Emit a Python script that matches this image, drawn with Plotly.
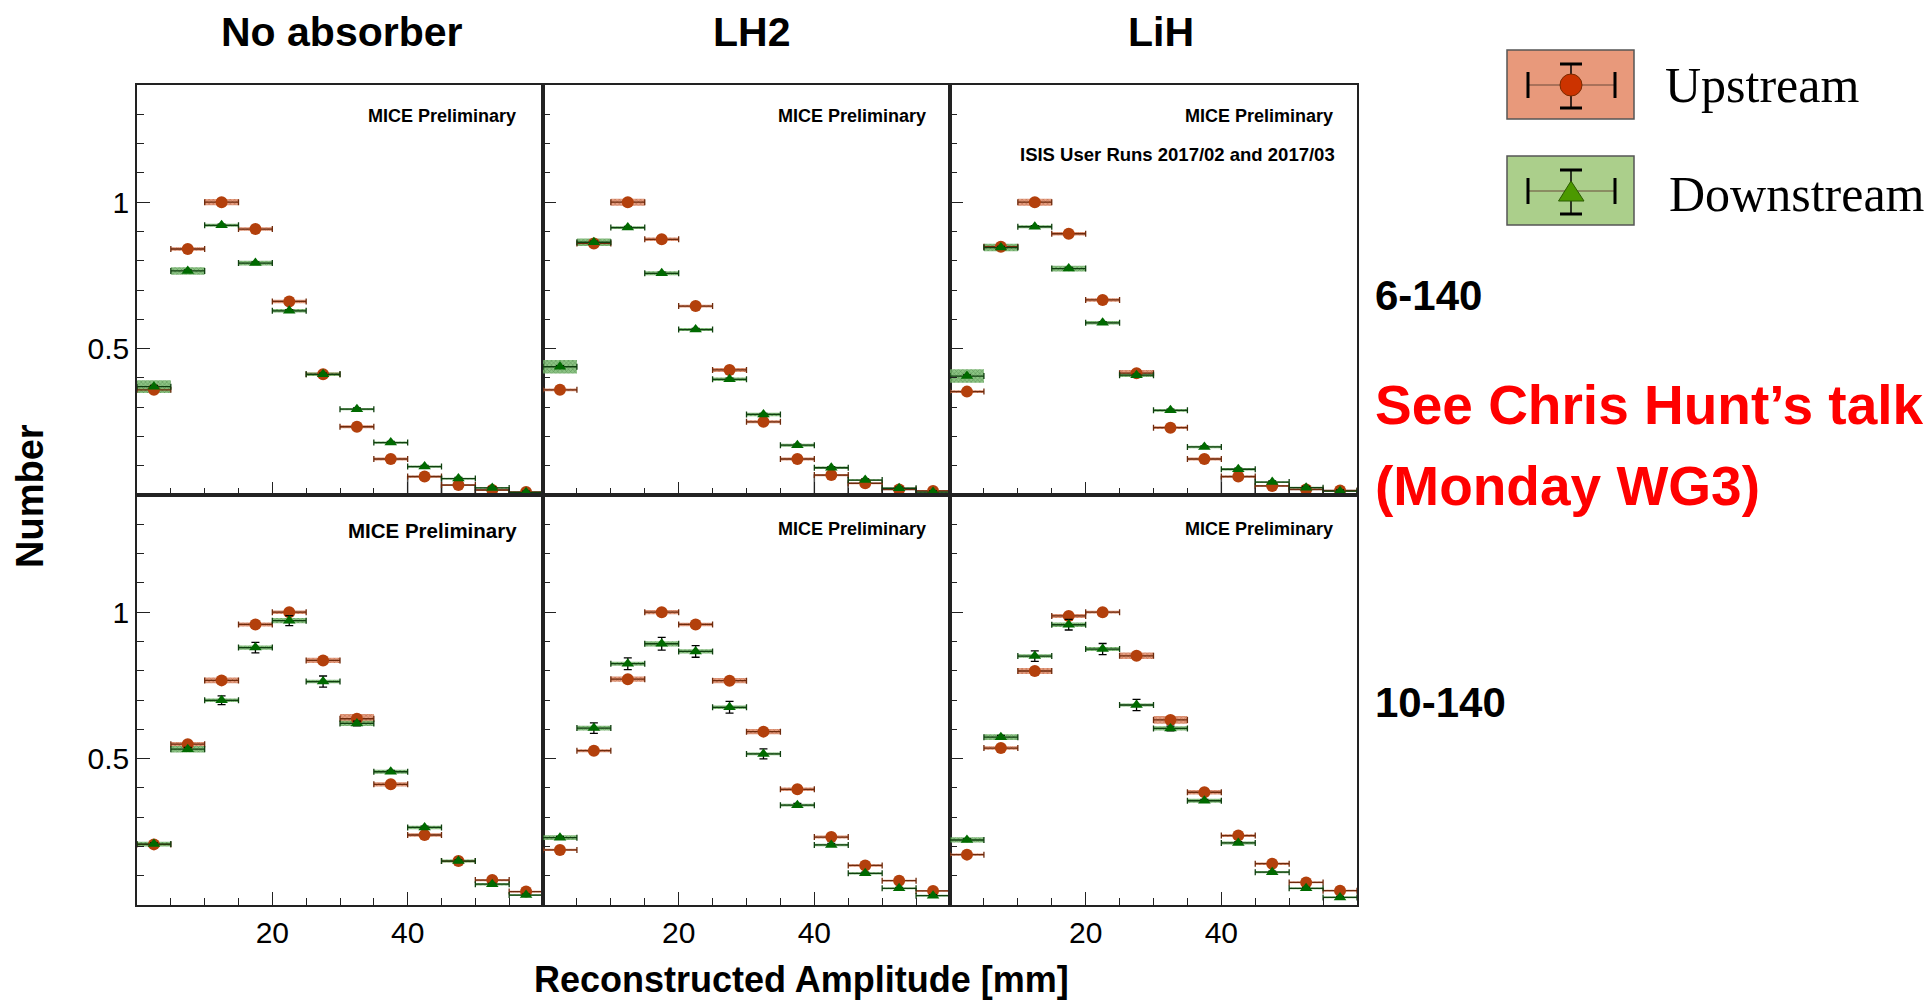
import plotly.graph_objects as go

W, H = 1928, 1002

# ---------------- data ----------------
bin_centers = [2.5, 7.5, 12.5, 17.5, 22.5, 27.5, 32.5, 37.5, 42.5, 47.5, 52.5, 57.5]
bin_half = [2.5] * 12

absorbers = ["No absorber", "LH2", "LiH"]
cut_labels = ["6-140", "10-140"]

# 6-140 row
up_6_none = [0.359, 0.840, 1.000, 0.908, 0.661, 0.412, 0.233, 0.123, 0.063, 0.034, 0.017, 0.010]
dn_6_none = [0.370, 0.765, 0.921, 0.792, 0.629, 0.412, 0.293, 0.179, 0.097, 0.056, 0.024, 0.009]
up_6_lh2 = [0.359, 0.859, 1.000, 0.873, 0.645, 0.427, 0.250, 0.123, 0.068, 0.040, 0.019, 0.014]
dn_6_lh2 = [0.438, 0.863, 0.913, 0.757, 0.565, 0.395, 0.275, 0.170, 0.093, 0.051, 0.023, 0.010]
up_6_lih = [0.353, 0.848, 1.000, 0.892, 0.666, 0.416, 0.230, 0.123, 0.063, 0.031, 0.019, 0.015]
dn_6_lih = [0.406, 0.845, 0.916, 0.773, 0.588, 0.409, 0.289, 0.164, 0.088, 0.044, 0.025, 0.013]

# 10-140 row
up_10_none = [0.207, 0.549, 0.767, 0.958, 1.000, 0.835, 0.636, 0.412, 0.239, 0.150, 0.085, 0.046]
dn_10_none = [0.208, 0.532, 0.699, 0.879, 0.971, 0.763, 0.620, 0.455, 0.265, 0.150, 0.071, 0.034]
up_10_lh2 = [0.188, 0.527, 0.771, 1.000, 0.958, 0.766, 0.592, 0.395, 0.232, 0.135, 0.083, 0.048]
dn_10_lh2 = [0.230, 0.604, 0.824, 0.892, 0.866, 0.675, 0.516, 0.341, 0.205, 0.108, 0.057, 0.032]
up_10_lih = [0.172, 0.536, 0.799, 0.987, 1.000, 0.851, 0.632, 0.385, 0.237, 0.141, 0.077, 0.049]
dn_10_lih = [0.222, 0.573, 0.850, 0.957, 0.874, 0.683, 0.603, 0.356, 0.212, 0.112, 0.057, 0.026]

# systematic errors (half heights of shaded boxes)
sys_up_6_none = [0.006, 0.006, 0.011, 0.006, 0.006, 0.006, 0.005, 0.005, 0.004, 0.003, 0.003, 0.003]
sys_dn_6_none = [0.022, 0.013, 0.005, 0.008, 0.006, 0.006, 0.004, 0.004, 0.004, 0.003, 0.003, 0.003]
sys_up_6_lh2 = [0.005, 0.006, 0.012, 0.006, 0.005, 0.007, 0.005, 0.005, 0.004, 0.003, 0.003, 0.003]
sys_dn_6_lh2 = [0.023, 0.013, 0.005, 0.007, 0.005, 0.006, 0.006, 0.005, 0.004, 0.003, 0.003, 0.003]
sys_up_6_lih = [0.005, 0.006, 0.012, 0.006, 0.006, 0.011, 0.005, 0.005, 0.004, 0.003, 0.003, 0.003]
sys_dn_6_lih = [0.023, 0.013, 0.005, 0.010, 0.006, 0.006, 0.005, 0.004, 0.004, 0.003, 0.003, 0.003]
sys_up_10_none = [0.005, 0.008, 0.010, 0.007, 0.006, 0.009, 0.016, 0.007, 0.006, 0.004, 0.004, 0.003]
sys_dn_10_none = [0.008, 0.011, 0.006, 0.007, 0.009, 0.006, 0.009, 0.007, 0.006, 0.005, 0.004, 0.003]
sys_up_10_lh2 = [0.004, 0.005, 0.009, 0.007, 0.006, 0.009, 0.009, 0.006, 0.005, 0.004, 0.003, 0.003]
sys_dn_10_lh2 = [0.008, 0.008, 0.007, 0.009, 0.007, 0.006, 0.005, 0.005, 0.004, 0.004, 0.003, 0.003]
sys_up_10_lih = [0.004, 0.006, 0.010, 0.007, 0.005, 0.011, 0.013, 0.008, 0.005, 0.004, 0.003, 0.003]
sys_dn_10_lih = [0.009, 0.010, 0.006, 0.008, 0.007, 0.005, 0.007, 0.007, 0.005, 0.004, 0.003, 0.003]

# statistical errors (vertical bars)
stat_up_6 = [0.003] * 12
stat_dn_6 = [0.004] * 12
stat_up_10 = [0.004, 0.005, 0.006, 0.007, 0.008, 0.007, 0.006, 0.005, 0.004, 0.003, 0.003, 0.003]
stat_dn_10_none = [0.004, 0.006, 0.015, 0.018, 0.017, 0.019, 0.008, 0.005, 0.004, 0.004, 0.003, 0.003]
stat_dn_10_lh2 = [0.004, 0.018, 0.020, 0.022, 0.020, 0.020, 0.017, 0.006, 0.005, 0.004, 0.003, 0.003]
stat_dn_10_lih = [0.004, 0.006, 0.018, 0.018, 0.019, 0.019, 0.008, 0.005, 0.004, 0.004, 0.003, 0.003]

x_ticks = [20, 40]
x_ticktext = ["20", "40"]
y_ticks = [0.5, 1.0]
y_ticktext = ["0.5", "1"]

panels = [
    # (row, col, up, dn, sys_up, sys_dn, stat_up, stat_dn)
    (0, 0, up_6_none, dn_6_none, sys_up_6_none, sys_dn_6_none, stat_up_6, stat_dn_6),
    (0, 1, up_6_lh2, dn_6_lh2, sys_up_6_lh2, sys_dn_6_lh2, stat_up_6, stat_dn_6),
    (0, 2, up_6_lih, dn_6_lih, sys_up_6_lih, sys_dn_6_lih, stat_up_6, stat_dn_6),
    (1, 0, up_10_none, dn_10_none, sys_up_10_none, sys_dn_10_none, stat_up_10, stat_dn_10_none),
    (1, 1, up_10_lh2, dn_10_lh2, sys_up_10_lh2, sys_dn_10_lh2, stat_up_10, stat_dn_10_lh2),
    (1, 2, up_10_lih, dn_10_lih, sys_up_10_lih, sys_dn_10_lih, stat_up_10, stat_dn_10_lih),
]

# ---------------- layout helpers ----------------
def px(x):
    return x / W

def py(y):
    return 1 - y / H

col_px = [(137, 543), (543, 950), (950, 1357)]
row_px = [(85, 495), (495, 905)]
title_cx = [342, 751, 1161]

SANS = "Liberation Sans, Arial, Helvetica, sans-serif"
SERIF = "Liberation Serif, Times New Roman, serif"

UP_MARK = "#b3400c"
DN_MARK = "#006a00"
UP_BAR = "#6e2a0c"
DN_BAR = "#0f3f0f"

fig = go.Figure()
layout = dict(
    width=W, height=H,
    margin=dict(l=0, r=0, t=0, b=0),
    paper_bgcolor="white", plot_bgcolor="white",
    showlegend=False, barmode="overlay",
)

for (r, c, up, dn, sup, sdn, stu, std) in panels:
    k = r * 3 + c + 1
    xa = "x" if k == 1 else f"x{k}"
    ya = "y" if k == 1 else f"y{k}"
    x0, x1 = col_px[c]
    y0, y1 = row_px[r]
    layout["xaxis" if k == 1 else f"xaxis{k}"] = dict(
        domain=[px(x0), px(x1)], range=[0, 60], anchor=ya,
        showline=True, mirror=True, linecolor="#222", linewidth=1.5,
        showgrid=False, zeroline=False,
        ticks="inside", ticklen=13, tickwidth=1.2, tickcolor="#222",
        tickmode="array", tickvals=x_ticks, ticktext=x_ticktext,
        showticklabels=(r == 1),
        tickfont=dict(family=SANS, size=30, color="black"),
        minor=dict(ticks="inside", ticklen=7, tickwidth=1, tickcolor="#222",
                   tickmode="linear", tick0=0, dtick=5),
        fixedrange=True,
    )
    layout["yaxis" if k == 1 else f"yaxis{k}"] = dict(
        domain=[py(y1), py(y0)], range=[0, 1.4], anchor=xa,
        showline=True, mirror=True, linecolor="#222", linewidth=1.5,
        showgrid=False, zeroline=False,
        ticks="inside", ticklen=13, tickwidth=1.2, tickcolor="#222",
        tickmode="array", tickvals=y_ticks, ticktext=y_ticktext,
        showticklabels=(c == 0),
        tickfont=dict(family=SANS, size=30, color="black"),
        minor=dict(ticks="inside", ticklen=7, tickwidth=1, tickcolor="#222",
                   tickmode="linear", tick0=0, dtick=0.1),
        fixedrange=True,
    )

    # outline histogram visible in the tail bins (upper row)
    if r == 0:
        fig.add_trace(go.Bar(
            x=bin_centers[8:], y=up[8:], width=5, xaxis=xa, yaxis=ya,
            marker=dict(color="rgba(0,0,0,0)", line=dict(color="#555", width=1.5)),
            hoverinfo="skip",
        ))

    # systematic boxes
    fig.add_trace(go.Bar(
        x=bin_centers, y=[2 * s for s in sup], base=[v - s for v, s in zip(up, sup)],
        width=5, xaxis=xa, yaxis=ya,
        marker=dict(color="rgba(225,140,105,0.85)", line=dict(width=0),
                    pattern=dict(shape="x", fgcolor="#8a3416", size=3, solidity=0.3)),
        hoverinfo="skip",
    ))
    fig.add_trace(go.Bar(
        x=bin_centers, y=[2 * s for s in sdn], base=[v - s for v, s in zip(dn, sdn)],
        width=5, xaxis=xa, yaxis=ya,
        marker=dict(color="rgba(120,185,110,0.85)", line=dict(width=0),
                    pattern=dict(shape="x", fgcolor="#1f5a1f", size=3, solidity=0.3)),
        hoverinfo="skip",
    ))

    # upstream points
    fig.add_trace(go.Scatter(
        x=bin_centers, y=up, mode="markers", xaxis=xa, yaxis=ya,
        marker=dict(symbol="circle", size=12, color=UP_MARK),
        error_x=dict(type="data", array=bin_half, color=UP_BAR, thickness=1.3, width=3),
        error_y=dict(type="data", array=stu, color="black", thickness=1.3, width=4),
    ))
    # downstream points
    fig.add_trace(go.Scatter(
        x=bin_centers, y=dn, mode="markers", xaxis=xa, yaxis=ya,
        marker=dict(symbol="triangle-up", size=11, color=DN_MARK),
        error_x=dict(type="data", array=bin_half, color=DN_BAR, thickness=1.3, width=3),
        error_y=dict(type="data", array=std, color="black", thickness=1.3, width=4),
    ))

annotations = []
# column titles
for c, name in enumerate(absorbers):
    annotations.append(dict(x=px(title_cx[c]), y=py(32), xref="paper", yref="paper",
                            text=name, showarrow=False, xanchor="center", yanchor="middle",
                            font=dict(family=SANS, size=41, color="black", weight="bold")))

# "MICE Preliminary" labels
mice = [
    (518, 116, 18), (928, 116, 18), (1335, 116, 18),
    (519, 530, 20.5), (928, 529, 18), (1335, 529, 18),
]
for (xr, yc, fs) in mice:
    annotations.append(dict(x=px(xr), y=py(yc), xref="paper", yref="paper",
                            text="MICE Preliminary", showarrow=False,
                            xanchor="right", yanchor="middle",
                            font=dict(family=SANS, size=fs, color="black", weight="bold")))
annotations.append(dict(x=px(1337), y=py(154), xref="paper", yref="paper",
                        text="ISIS User Runs 2017/02 and 2017/03", showarrow=False,
                        xanchor="right", yanchor="middle",
                        font=dict(family=SANS, size=18.5, color="black", weight="bold")))

# axis titles
annotations.append(dict(x=px(801), y=py(979), xref="paper", yref="paper",
                        text="Reconstructed Amplitude [mm]", showarrow=False,
                        xanchor="center", yanchor="middle", borderpad=0,
                        font=dict(family=SANS, size=36, color="black", weight="bold")))
annotations.append(dict(x=px(30), y=py(496), xref="paper", yref="paper",
                        text="Number", showarrow=False, textangle=-90,
                        xanchor="center", yanchor="middle",
                        font=dict(family=SANS, size=38, color="black", weight="bold")))

# row labels
for lab, yc in zip(cut_labels, [295, 702]):
    annotations.append(dict(x=px(1373), y=py(yc), xref="paper", yref="paper",
                            text=lab, showarrow=False, xanchor="left", yanchor="middle",
                            font=dict(family=SANS, size=42, color="black", weight="bold")))

# red note
annotations.append(dict(x=px(1373), y=py(405), xref="paper", yref="paper",
                        text="See Chris Hunt\u2019s talk", showarrow=False,
                        xanchor="left", yanchor="middle",
                        font=dict(family=SANS, size=55, color="#ff0000", weight="bold")))
annotations.append(dict(x=px(1373), y=py(486), xref="paper", yref="paper",
                        text="(Monday WG3)", showarrow=False,
                        xanchor="left", yanchor="middle",
                        font=dict(family=SANS, size=55, color="#ff0000", weight="bold")))

# legend texts
annotations.append(dict(x=px(1663), y=py(85), xref="paper", yref="paper",
                        text="Upstream", showarrow=False, xanchor="left", yanchor="middle",
                        font=dict(family=SERIF, size=50, color="black")))
annotations.append(dict(x=px(1667), y=py(194), xref="paper", yref="paper",
                        text="Downstream", showarrow=False, xanchor="left", yanchor="middle",
                        font=dict(family=SERIF, size=50, color="black")))

# legend boxes drawn as shapes
shapes = []
def rect(x0, y0, x1, y1, fill, line="#555", lw=1.5):
    shapes.append(dict(type="rect", xref="paper", yref="paper",
                       x0=px(x0), x1=px(x1), y0=py(y1), y1=py(y0),
                       fillcolor=fill, line=dict(color=line, width=lw)))

def seg(x0, y0, x1, y1, color="black", lw=1):
    shapes.append(dict(type="line", xref="paper", yref="paper",
                       x0=px(x0), x1=px(x1), y0=py(y0), y1=py(y1),
                       line=dict(color=color, width=lw)))

for (yc, ytop, ybot, fill, mfill, kind) in [
    (85, 50, 119, "#e8997b", "#cc3300", "circle"),
    (191, 156, 225, "#abcf8b", "#4c9900", "tri"),
]:
    rect(1507, ytop, 1634, ybot, fill)
    seg(1528, yc, 1615, yc, "#6a4a3a", 1.2)
    seg(1528, yc - 13, 1528, yc + 13, "black", 3)
    seg(1615, yc - 13, 1615, yc + 13, "black", 3)
    seg(1571, yc - 21, 1571, yc + 23, "black", 1.5)
    seg(1560, yc - 21, 1582, yc - 21, "black", 3)
    seg(1560, yc + 23, 1582, yc + 23, "black", 3)
    if kind == "circle":
        shapes.append(dict(type="circle", xref="paper", yref="paper",
                           x0=px(1560), x1=px(1582), y0=py(yc + 11), y1=py(yc - 11),
                           fillcolor=mfill, line=dict(color="#7a2a00", width=1)))
    else:
        path = (f"M {px(1558.5)} {py(yc + 10)} L {px(1584)} {py(yc + 10)} "
                f"L {px(1571)} {py(yc - 10)} Z")
        shapes.append(dict(type="path", xref="paper", yref="paper", path=path,
                           fillcolor=mfill, line=dict(color="#2a5a00", width=1)))

layout["annotations"] = annotations
layout["shapes"] = shapes
fig.update_layout(**layout)

fig.write_html("out.html")
